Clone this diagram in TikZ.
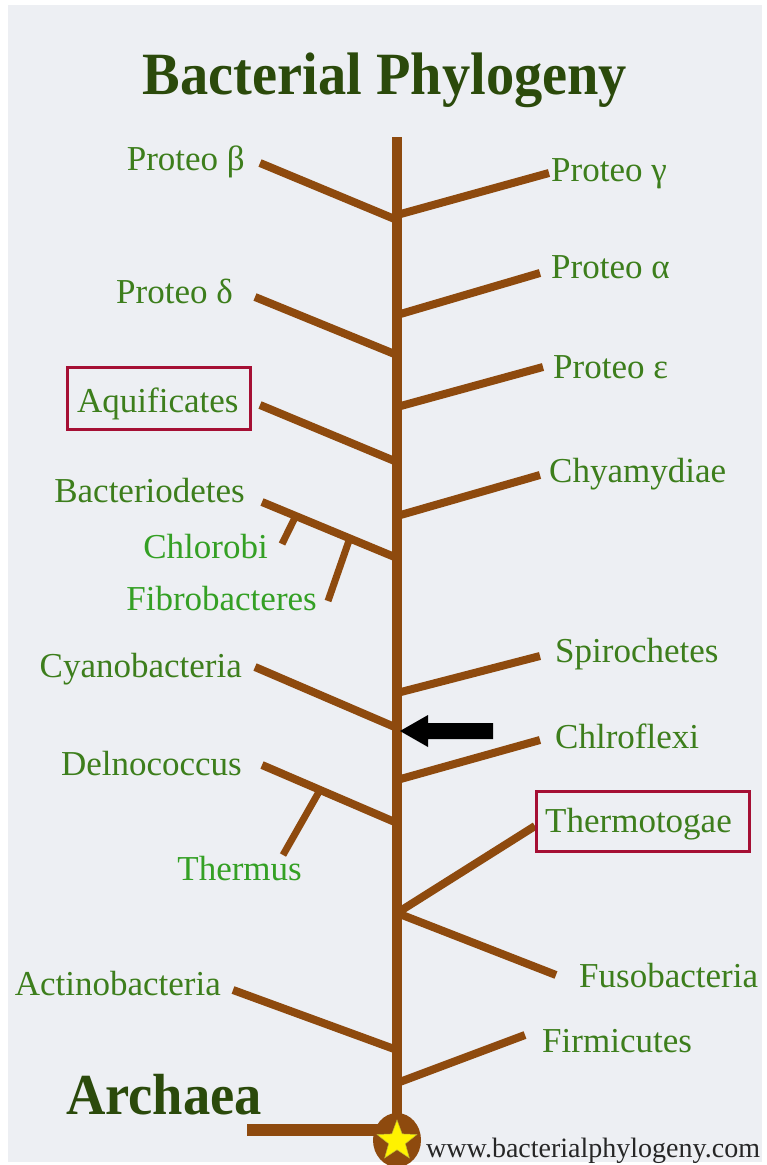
\documentclass[tikz,border=0pt]{standalone}
\usepackage{fontspec}
\setmainfont{Liberation Serif}
\newfontfamily\titlefont[FakeStretch=0.94]{Liberation Serif}
\usetikzlibrary{shapes.geometric,calc}
\definecolor{bgc}{HTML}{EDEFF3}
\definecolor{brn}{HTML}{8E4A0E}
\definecolor{lbl}{HTML}{3D7E1C}
\definecolor{lgr}{HTML}{34A024}
\definecolor{ttl}{HTML}{2B4A0B}
\definecolor{bxr}{HTML}{A50F34}
\begin{document}
\begin{tikzpicture}[x=1pt,y=-1pt,
  branch/.style={draw=brn,line width=8pt},
  trunkline/.style={draw=brn,line width=10pt},
  lab/.style={inner sep=0pt,text=lbl,font=\fontsize{35}{40}\selectfont},
  labl/.style={lab,text=lgr},
  redbox/.style={draw=bxr,line width=3pt}]
\useasboundingbox (0,0) rectangle (766,1165);
\fill[white] (0,0) rectangle (766,1165);
\fill[bgc] (8,5) rectangle (762,1162);

% title
\node[inner sep=0pt,anchor=base,text=ttl,font=\titlefont\fontsize{60}{64}\selectfont\bfseries] (title) at (385,94) {Bacterial Phylogeny};

% trunk coordinates
\coordinate (top) at (397,137);
\coordinate (bot) at (397,1135);
\draw[trunkline] (top) -- (bot);

% branch coordinates (trunk joins)
\coordinate (jb) at (397,220);
\coordinate (jg) at (397,215);
\coordinate (ja) at (397,315);
\coordinate (jd) at (397,355);
\coordinate (je) at (397,407);
\coordinate (jaq) at (397,462);
\coordinate (jch) at (397,516);
\coordinate (jbac) at (397,558);
\coordinate (jsp) at (397,693);
\coordinate (jcy) at (397,728);
\coordinate (jcf) at (397,780);
\coordinate (jde) at (397,823);
\coordinate (jth) at (397,913);
\coordinate (jac) at (397,1050);
\coordinate (jfi) at (397,1083);

% branch tips
\coordinate (tb) at (260,163);
\coordinate (tg) at (549,173);
\coordinate (ta) at (540,273);
\coordinate (td) at (255,297);
\coordinate (te) at (543,367);
\coordinate (taq) at (260,405);
\coordinate (tch) at (540,475);
\coordinate (tbac) at (262,502);
\coordinate (tsp) at (540,656);
\coordinate (tcy) at (255,667);
\coordinate (tcf) at (540,740);
\coordinate (tde) at (262,765);
\coordinate (tto) at (535,826);
\coordinate (tfu) at (556,975);
\coordinate (tac) at (233,990);
\coordinate (tfi) at (525,1035);

\foreach \a/\b in {tb/jb,jg/tg,ja/ta,td/jd,je/te,taq/jaq,jch/tch,tbac/jbac,jsp/tsp,tcy/jcy,jcf/tcf,tde/jde,jth/tto,jth/tfu,tac/jac,jfi/tfi}
  \draw[branch] (\a) -- (\b);

% sub-ticks
\coordinate (c1) at ($(tbac)!0.25!(jbac)$); \coordinate (c2) at (282,544);
\coordinate (f1) at ($(tbac)!0.65!(jbac)$); \coordinate (f2) at (328,601);
\coordinate (h1) at ($(tde)!0.43!(jde)$); \coordinate (h2) at (283,855);
\draw[branch,line width=7pt] (c1) -- (c2);
\draw[branch,line width=7pt] (f1) -- (f2);
\draw[branch,line width=7pt] (h1) -- (h2);

% labels
\node[lab,anchor=base east] (pb) at (245,170) {Proteo β};
\node[lab,anchor=base west] (pg) at (551,181) {Proteo γ};
\node[lab,anchor=base west] (pa) at (551,278) {Proteo α};
\node[lab,anchor=base east] (pd) at (233,303) {Proteo δ};
\node[lab,anchor=base west] (pe) at (553,378) {Proteo ε};
\node[lab,anchor=base west] (aq) at (77,412) {Aquificates};
\draw[redbox] (67,367) rectangle (250,429);
\node[lab,anchor=base west] (chy) at (549,482) {Chyamydiae};
\node[lab,anchor=base east] (bac) at (245,502) {Bacteriodetes};
\node[labl,anchor=base east] (chl) at (268,558) {Chlorobi};
\node[labl,anchor=base east] (fib) at (317,610) {Fibrobacteres};
\node[lab,anchor=base east] (cya) at (242,677) {Cyanobacteria};
\node[lab,anchor=base west] (spi) at (555,662) {Spirochetes};
\node[lab,anchor=base west] (chf) at (555,748) {Chlroflexi};
\node[lab,anchor=base east] (del) at (242,775) {Delnococcus};
\node[labl,anchor=base east] (thm) at (302,880) {Thermus};
\node[lab,anchor=base west] (tht) at (545,832) {Thermotogae};
\draw[redbox] (536,791) rectangle (749,851);
\node[lab,anchor=base west] (fus) at (579,987) {Fusobacteria};
\node[lab,anchor=base east] (act) at (221,995) {Actinobacteria};
\node[lab,anchor=base west] (fir) at (542,1052) {Firmicutes};

% arrow
\fill[black] (400,731) -- (428,715) -- (428,723) -- (493,723) -- (493,739) -- (428,739) -- (428,747) -- cycle;

% archaea
\node[inner sep=0pt,anchor=base west,text=ttl,font=\titlefont\fontsize{58}{62}\selectfont\bfseries] (arch) at (66,1114) {Archaea};
\coordinate (ab) at (247,1130);
\coordinate (abe) at (397,1130);
\draw[draw=brn,line width=12pt] (ab) -- (abe);
\node[ellipse,fill=brn,minimum width=48pt,minimum height=54pt,inner sep=0pt] (root) at (397,1140) {};
\node[star,star points=5,star point ratio=2.4,fill=yellow,draw=yellow!70!black,line width=0.5pt,minimum size=42pt,inner sep=0pt] (st) at (397,1141) {};
\node[inner sep=0pt,anchor=base west,text=black!85,font=\fontsize{28}{32}\selectfont] (url) at (426,1157) {www.bacterialphylogeny.com};
\end{tikzpicture}
\end{document}
